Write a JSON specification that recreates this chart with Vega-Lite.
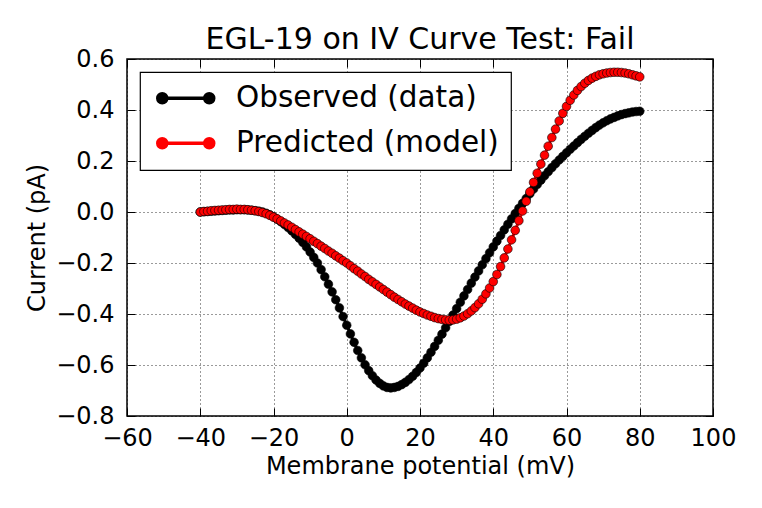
{
 "$schema": "https://vega.github.io/schema/vega-lite/v6.json",
 "width": 586,
 "height": 357,
 "autosize": "none",
 "padding": {"left": 127, "top": 59, "right": 49, "bottom": 92},
 "background": "white",
 "title": {"text": "EGL-19 on IV Curve Test: Fail", "fontSize": 30, "font": "DejaVu Sans", "fontWeight": "normal", "color": "black", "offset": -8},
 "config": {
  "view": {"stroke": "black", "strokeWidth": 1.5},
  "axis": {"labelFont": "DejaVu Sans", "labelFontSize": 24, "labelColor": "black", "titleFont": "DejaVu Sans", "titleFontSize": 24, "titleFontWeight": "normal", "titleColor": "black", "domain": false, "tickColor": "black", "tickWidth": 1, "gridColor": "black", "gridDash": [1, 3], "gridWidth": 0.8, "gridOpacity": 1, "labelOverlap": false, "labelFlush": false}
 },
 "data": {"values": [
{"v":-40,"i":0.000,"s":"Observed (data)"},{"v":-39,"i":0.001,"s":"Observed (data)"},{"v":-38,"i":0.002,"s":"Observed (data)"},{"v":-37,"i":0.003,"s":"Observed (data)"},{"v":-36,"i":0.004,"s":"Observed (data)"},{"v":-35,"i":0.005,"s":"Observed (data)"},{"v":-34,"i":0.006,"s":"Observed (data)"},{"v":-33,"i":0.007,"s":"Observed (data)"},{"v":-32,"i":0.008,"s":"Observed (data)"},{"v":-31,"i":0.008,"s":"Observed (data)"},
{"v":-30,"i":0.009,"s":"Observed (data)"},{"v":-29,"i":0.009,"s":"Observed (data)"},{"v":-28,"i":0.009,"s":"Observed (data)"},{"v":-27,"i":0.008,"s":"Observed (data)"},{"v":-26,"i":0.007,"s":"Observed (data)"},{"v":-25,"i":0.005,"s":"Observed (data)"},{"v":-24,"i":0.003,"s":"Observed (data)"},{"v":-23,"i":0.000,"s":"Observed (data)"},{"v":-22,"i":-0.005,"s":"Observed (data)"},{"v":-21,"i":-0.011,"s":"Observed (data)"},
{"v":-20,"i":-0.019,"s":"Observed (data)"},{"v":-19,"i":-0.028,"s":"Observed (data)"},{"v":-18,"i":-0.038,"s":"Observed (data)"},{"v":-17,"i":-0.049,"s":"Observed (data)"},{"v":-16,"i":-0.061,"s":"Observed (data)"},{"v":-15,"i":-0.074,"s":"Observed (data)"},{"v":-14,"i":-0.088,"s":"Observed (data)"},{"v":-13,"i":-0.103,"s":"Observed (data)"},{"v":-12,"i":-0.119,"s":"Observed (data)"},{"v":-11,"i":-0.137,"s":"Observed (data)"},
{"v":-10,"i":-0.157,"s":"Observed (data)"},{"v":-9,"i":-0.178,"s":"Observed (data)"},{"v":-8,"i":-0.200,"s":"Observed (data)"},{"v":-7,"i":-0.226,"s":"Observed (data)"},{"v":-6,"i":-0.254,"s":"Observed (data)"},{"v":-5,"i":-0.283,"s":"Observed (data)"},{"v":-4,"i":-0.313,"s":"Observed (data)"},{"v":-3,"i":-0.344,"s":"Observed (data)"},{"v":-2,"i":-0.376,"s":"Observed (data)"},{"v":-1,"i":-0.410,"s":"Observed (data)"},
{"v":0,"i":-0.444,"s":"Observed (data)"},{"v":1,"i":-0.478,"s":"Observed (data)"},{"v":2,"i":-0.511,"s":"Observed (data)"},{"v":3,"i":-0.543,"s":"Observed (data)"},{"v":4,"i":-0.572,"s":"Observed (data)"},{"v":5,"i":-0.599,"s":"Observed (data)"},{"v":6,"i":-0.622,"s":"Observed (data)"},{"v":7,"i":-0.642,"s":"Observed (data)"},{"v":8,"i":-0.659,"s":"Observed (data)"},{"v":9,"i":-0.672,"s":"Observed (data)"},
{"v":10,"i":-0.682,"s":"Observed (data)"},{"v":11,"i":-0.688,"s":"Observed (data)"},{"v":12,"i":-0.690,"s":"Observed (data)"},{"v":13,"i":-0.688,"s":"Observed (data)"},{"v":14,"i":-0.684,"s":"Observed (data)"},{"v":15,"i":-0.677,"s":"Observed (data)"},{"v":16,"i":-0.668,"s":"Observed (data)"},{"v":17,"i":-0.657,"s":"Observed (data)"},{"v":18,"i":-0.644,"s":"Observed (data)"},{"v":19,"i":-0.629,"s":"Observed (data)"},
{"v":20,"i":-0.612,"s":"Observed (data)"},{"v":21,"i":-0.593,"s":"Observed (data)"},{"v":22,"i":-0.572,"s":"Observed (data)"},{"v":23,"i":-0.550,"s":"Observed (data)"},{"v":24,"i":-0.527,"s":"Observed (data)"},{"v":25,"i":-0.503,"s":"Observed (data)"},{"v":26,"i":-0.479,"s":"Observed (data)"},{"v":27,"i":-0.454,"s":"Observed (data)"},{"v":28,"i":-0.429,"s":"Observed (data)"},{"v":29,"i":-0.404,"s":"Observed (data)"},
{"v":30,"i":-0.379,"s":"Observed (data)"},{"v":31,"i":-0.354,"s":"Observed (data)"},{"v":32,"i":-0.329,"s":"Observed (data)"},{"v":33,"i":-0.304,"s":"Observed (data)"},{"v":34,"i":-0.279,"s":"Observed (data)"},{"v":35,"i":-0.255,"s":"Observed (data)"},{"v":36,"i":-0.231,"s":"Observed (data)"},{"v":37,"i":-0.207,"s":"Observed (data)"},{"v":38,"i":-0.183,"s":"Observed (data)"},{"v":39,"i":-0.160,"s":"Observed (data)"},
{"v":40,"i":-0.137,"s":"Observed (data)"},{"v":41,"i":-0.114,"s":"Observed (data)"},{"v":42,"i":-0.092,"s":"Observed (data)"},{"v":43,"i":-0.070,"s":"Observed (data)"},{"v":44,"i":-0.048,"s":"Observed (data)"},{"v":45,"i":-0.027,"s":"Observed (data)"},{"v":46,"i":-0.006,"s":"Observed (data)"},{"v":47,"i":0.014,"s":"Observed (data)"},{"v":48,"i":0.034,"s":"Observed (data)"},{"v":49,"i":0.053,"s":"Observed (data)"},
{"v":50,"i":0.072,"s":"Observed (data)"},{"v":51,"i":0.090,"s":"Observed (data)"},{"v":52,"i":0.108,"s":"Observed (data)"},{"v":53,"i":0.125,"s":"Observed (data)"},{"v":54,"i":0.142,"s":"Observed (data)"},{"v":55,"i":0.158,"s":"Observed (data)"},{"v":56,"i":0.174,"s":"Observed (data)"},{"v":57,"i":0.189,"s":"Observed (data)"},{"v":58,"i":0.204,"s":"Observed (data)"},{"v":59,"i":0.218,"s":"Observed (data)"},
{"v":60,"i":0.232,"s":"Observed (data)"},{"v":61,"i":0.246,"s":"Observed (data)"},{"v":62,"i":0.259,"s":"Observed (data)"},{"v":63,"i":0.272,"s":"Observed (data)"},{"v":64,"i":0.285,"s":"Observed (data)"},{"v":65,"i":0.297,"s":"Observed (data)"},{"v":66,"i":0.309,"s":"Observed (data)"},{"v":67,"i":0.320,"s":"Observed (data)"},{"v":68,"i":0.331,"s":"Observed (data)"},{"v":69,"i":0.341,"s":"Observed (data)"},
{"v":70,"i":0.350,"s":"Observed (data)"},{"v":71,"i":0.358,"s":"Observed (data)"},{"v":72,"i":0.365,"s":"Observed (data)"},{"v":73,"i":0.371,"s":"Observed (data)"},{"v":74,"i":0.377,"s":"Observed (data)"},{"v":75,"i":0.382,"s":"Observed (data)"},{"v":76,"i":0.386,"s":"Observed (data)"},{"v":77,"i":0.389,"s":"Observed (data)"},{"v":78,"i":0.392,"s":"Observed (data)"},{"v":79,"i":0.394,"s":"Observed (data)"},
{"v":80,"i":0.395,"s":"Observed (data)"},
{"v":-40,"i":0.000,"s":"Predicted (model)"},{"v":-39,"i":0.002,"s":"Predicted (model)"},{"v":-38,"i":0.003,"s":"Predicted (model)"},{"v":-37,"i":0.005,"s":"Predicted (model)"},{"v":-36,"i":0.006,"s":"Predicted (model)"},{"v":-35,"i":0.007,"s":"Predicted (model)"},{"v":-34,"i":0.008,"s":"Predicted (model)"},{"v":-33,"i":0.009,"s":"Predicted (model)"},{"v":-32,"i":0.010,"s":"Predicted (model)"},{"v":-31,"i":0.010,"s":"Predicted (model)"},
{"v":-30,"i":0.011,"s":"Predicted (model)"},{"v":-29,"i":0.010,"s":"Predicted (model)"},{"v":-28,"i":0.010,"s":"Predicted (model)"},{"v":-27,"i":0.009,"s":"Predicted (model)"},{"v":-26,"i":0.007,"s":"Predicted (model)"},{"v":-25,"i":0.005,"s":"Predicted (model)"},{"v":-24,"i":0.002,"s":"Predicted (model)"},{"v":-23,"i":-0.002,"s":"Predicted (model)"},{"v":-22,"i":-0.007,"s":"Predicted (model)"},{"v":-21,"i":-0.013,"s":"Predicted (model)"},
{"v":-20,"i":-0.020,"s":"Predicted (model)"},{"v":-19,"i":-0.027,"s":"Predicted (model)"},{"v":-18,"i":-0.035,"s":"Predicted (model)"},{"v":-17,"i":-0.043,"s":"Predicted (model)"},{"v":-16,"i":-0.051,"s":"Predicted (model)"},{"v":-15,"i":-0.060,"s":"Predicted (model)"},{"v":-14,"i":-0.069,"s":"Predicted (model)"},{"v":-13,"i":-0.078,"s":"Predicted (model)"},{"v":-12,"i":-0.087,"s":"Predicted (model)"},{"v":-11,"i":-0.096,"s":"Predicted (model)"},
{"v":-10,"i":-0.105,"s":"Predicted (model)"},{"v":-9,"i":-0.115,"s":"Predicted (model)"},{"v":-8,"i":-0.124,"s":"Predicted (model)"},{"v":-7,"i":-0.134,"s":"Predicted (model)"},{"v":-6,"i":-0.143,"s":"Predicted (model)"},{"v":-5,"i":-0.153,"s":"Predicted (model)"},{"v":-4,"i":-0.162,"s":"Predicted (model)"},{"v":-3,"i":-0.172,"s":"Predicted (model)"},{"v":-2,"i":-0.181,"s":"Predicted (model)"},{"v":-1,"i":-0.191,"s":"Predicted (model)"},
{"v":0,"i":-0.200,"s":"Predicted (model)"},{"v":1,"i":-0.211,"s":"Predicted (model)"},{"v":2,"i":-0.222,"s":"Predicted (model)"},{"v":3,"i":-0.232,"s":"Predicted (model)"},{"v":4,"i":-0.243,"s":"Predicted (model)"},{"v":5,"i":-0.253,"s":"Predicted (model)"},{"v":6,"i":-0.264,"s":"Predicted (model)"},{"v":7,"i":-0.274,"s":"Predicted (model)"},{"v":8,"i":-0.284,"s":"Predicted (model)"},{"v":9,"i":-0.294,"s":"Predicted (model)"},
{"v":10,"i":-0.304,"s":"Predicted (model)"},{"v":11,"i":-0.314,"s":"Predicted (model)"},{"v":12,"i":-0.324,"s":"Predicted (model)"},{"v":13,"i":-0.334,"s":"Predicted (model)"},{"v":14,"i":-0.343,"s":"Predicted (model)"},{"v":15,"i":-0.352,"s":"Predicted (model)"},{"v":16,"i":-0.361,"s":"Predicted (model)"},{"v":17,"i":-0.369,"s":"Predicted (model)"},{"v":18,"i":-0.377,"s":"Predicted (model)"},{"v":19,"i":-0.385,"s":"Predicted (model)"},
{"v":20,"i":-0.392,"s":"Predicted (model)"},{"v":21,"i":-0.398,"s":"Predicted (model)"},{"v":22,"i":-0.404,"s":"Predicted (model)"},{"v":23,"i":-0.409,"s":"Predicted (model)"},{"v":24,"i":-0.414,"s":"Predicted (model)"},{"v":25,"i":-0.418,"s":"Predicted (model)"},{"v":26,"i":-0.421,"s":"Predicted (model)"},{"v":27,"i":-0.423,"s":"Predicted (model)"},{"v":28,"i":-0.424,"s":"Predicted (model)"},{"v":29,"i":-0.423,"s":"Predicted (model)"},
{"v":30,"i":-0.420,"s":"Predicted (model)"},{"v":31,"i":-0.415,"s":"Predicted (model)"},{"v":32,"i":-0.408,"s":"Predicted (model)"},{"v":33,"i":-0.399,"s":"Predicted (model)"},{"v":34,"i":-0.388,"s":"Predicted (model)"},{"v":35,"i":-0.375,"s":"Predicted (model)"},{"v":36,"i":-0.360,"s":"Predicted (model)"},{"v":37,"i":-0.342,"s":"Predicted (model)"},{"v":38,"i":-0.321,"s":"Predicted (model)"},{"v":39,"i":-0.298,"s":"Predicted (model)"},
{"v":40,"i":-0.273,"s":"Predicted (model)"},{"v":41,"i":-0.245,"s":"Predicted (model)"},{"v":42,"i":-0.214,"s":"Predicted (model)"},{"v":43,"i":-0.180,"s":"Predicted (model)"},{"v":44,"i":-0.145,"s":"Predicted (model)"},{"v":45,"i":-0.109,"s":"Predicted (model)"},{"v":46,"i":-0.072,"s":"Predicted (model)"},{"v":47,"i":-0.034,"s":"Predicted (model)"},{"v":48,"i":0.004,"s":"Predicted (model)"},{"v":49,"i":0.042,"s":"Predicted (model)"},
{"v":50,"i":0.079,"s":"Predicted (model)"},{"v":51,"i":0.116,"s":"Predicted (model)"},{"v":52,"i":0.152,"s":"Predicted (model)"},{"v":53,"i":0.188,"s":"Predicted (model)"},{"v":54,"i":0.223,"s":"Predicted (model)"},{"v":55,"i":0.258,"s":"Predicted (model)"},{"v":56,"i":0.292,"s":"Predicted (model)"},{"v":57,"i":0.325,"s":"Predicted (model)"},{"v":58,"i":0.357,"s":"Predicted (model)"},{"v":59,"i":0.387,"s":"Predicted (model)"},
{"v":60,"i":0.414,"s":"Predicted (model)"},{"v":61,"i":0.438,"s":"Predicted (model)"},{"v":62,"i":0.459,"s":"Predicted (model)"},{"v":63,"i":0.477,"s":"Predicted (model)"},{"v":64,"i":0.492,"s":"Predicted (model)"},{"v":65,"i":0.505,"s":"Predicted (model)"},{"v":66,"i":0.516,"s":"Predicted (model)"},{"v":67,"i":0.525,"s":"Predicted (model)"},{"v":68,"i":0.532,"s":"Predicted (model)"},{"v":69,"i":0.538,"s":"Predicted (model)"},
{"v":70,"i":0.542,"s":"Predicted (model)"},{"v":71,"i":0.545,"s":"Predicted (model)"},{"v":72,"i":0.547,"s":"Predicted (model)"},{"v":73,"i":0.548,"s":"Predicted (model)"},{"v":74,"i":0.548,"s":"Predicted (model)"},{"v":75,"i":0.547,"s":"Predicted (model)"},{"v":76,"i":0.545,"s":"Predicted (model)"},{"v":77,"i":0.542,"s":"Predicted (model)"},{"v":78,"i":0.538,"s":"Predicted (model)"},{"v":79,"i":0.534,"s":"Predicted (model)"},
{"v":80,"i":0.530,"s":"Predicted (model)"}
 ]},
 "resolve": {"axis": {"x": "independent", "y": "independent"}},
 "layer": [
  {
   "mark": {"type": "line", "strokeWidth": 3},
   "encoding": {
    "x": {"field": "v", "type": "quantitative", "scale": {"domain": [-60, 100], "nice": false, "zero": false},
          "axis": {"orient": "bottom", "title": "Membrane potential (mV)", "values": [-60, -40, -20, 0, 20, 40, 60, 80, 100], "grid": true, "ticks": false, "labelPadding": 10, "titlePadding": 4}},
    "y": {"field": "i", "type": "quantitative", "scale": {"domain": [-0.8, 0.6], "nice": false, "zero": false},
          "axis": {"orient": "left", "title": "Current (pA)", "values": [-0.8, -0.6, -0.4, -0.2, 0, 0.2, 0.4, 0.6], "format": ".1f", "grid": true, "ticks": false, "labelPadding": 13, "titlePadding": 6}},
    "color": {"field": "s", "type": "nominal", "scale": {"domain": ["Observed (data)", "Predicted (model)"], "range": ["black", "red"]},
     "legend": {"orient": "top-left", "offset": 13, "title": null, "labelFont": "DejaVu Sans", "labelFontSize": 29.5, "labelColor": "black", "labelLimit": 500,
      "strokeColor": "black", "fillColor": "white", "padding": 11.5, "rowPadding": 14, "symbolSize": 400, "symbolOffset": 19.5, "labelOffset": 35.5,
      "symbolType": "M-2.35,0H2.35M-1.9,0A0.45,0.45,0,1,1,-2.8,0A0.45,0.45,0,1,1,-1.9,0M2.8,0A0.45,0.45,0,1,1,1.9,0A0.45,0.45,0,1,1,2.8,0",
      "encode": {"symbols": {"update": {"fill": {"scale": "color", "field": "value"}, "stroke": {"scale": "color", "field": "value"}, "strokeWidth": {"value": 3.5}, "opacity": {"value": 1}}},
                 "legend": {"update": {"strokeWidth": {"value": 1.2}}}}}}
   }
  },
  {
   "mark": {"type": "point", "filled": true, "size": 75, "opacity": 1, "stroke": "black", "strokeWidth": 0.6},
   "encoding": {
    "x": {"field": "v", "type": "quantitative", "scale": {"domain": [-60, 100], "nice": false, "zero": false}, "axis": null},
    "y": {"field": "i", "type": "quantitative", "scale": {"domain": [-0.8, 0.6], "nice": false, "zero": false}, "axis": null},
    "color": {"field": "s", "type": "nominal", "scale": {"domain": ["Observed (data)", "Predicted (model)"], "range": ["black", "red"]}, "legend": null}
   }
  },
  {
   "mark": {"type": "point", "opacity": 0},
   "encoding": {
    "x": {"field": "v", "type": "quantitative", "scale": {"domain": [-60, 100], "nice": false, "zero": false},
          "axis": {"orient": "top", "labels": false, "title": null, "grid": false, "tickSize": 8, "offset": -8, "values": [-60, -40, -20, 0, 20, 40, 60, 80, 100]}},
    "y": {"field": "i", "type": "quantitative", "scale": {"domain": [-0.8, 0.6], "nice": false, "zero": false},
          "axis": {"orient": "right", "labels": false, "title": null, "grid": false, "tickSize": 8, "offset": -8, "values": [-0.8, -0.6, -0.4, -0.2, 0, 0.2, 0.4, 0.6]}}
   }
  },
  {
   "mark": {"type": "point", "opacity": 0},
   "encoding": {
    "x": {"field": "v", "type": "quantitative", "scale": {"domain": [-60, 100], "nice": false, "zero": false},
          "axis": {"orient": "bottom", "labels": false, "title": null, "grid": false, "tickSize": 8, "offset": -8, "values": [-60, -40, -20, 0, 20, 40, 60, 80, 100]}},
    "y": {"field": "i", "type": "quantitative", "scale": {"domain": [-0.8, 0.6], "nice": false, "zero": false},
          "axis": {"orient": "left", "labels": false, "title": null, "grid": false, "tickSize": 8, "offset": -8, "values": [-0.8, -0.6, -0.4, -0.2, 0, 0.2, 0.4, 0.6]}}
   }
  }
 ]
}
